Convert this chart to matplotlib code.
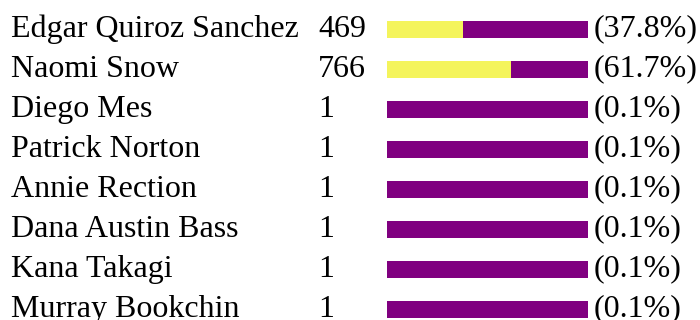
import matplotlib.pyplot as plt

names = ["Edgar Quiroz Sanchez", "Naomi Snow", "Diego Mes", "Patrick Norton",
         "Annie Rection", "Dana Austin Bass", "Kana Takagi", "Murray Bookchin"]
votes = [469, 766, 1, 1, 1, 1, 1, 1]
share = [37.8, 61.7, 0.0, 0.0, 0.0, 0.0, 0.0, 0.0]
labels = ["(37.8%)", "(61.7%)", "(0.1%)", "(0.1%)", "(0.1%)", "(0.1%)", "(0.1%)", "(0.1%)"]

W, H = 700, 320
row_h = 40.0
first = 29.5
ylo = -first / row_h
yhi = (H - first) / row_h

yellow = "#f4f45c"
purple = "#800080"

plt.rcParams['font.family'] = ['Liberation Serif', 'DejaVu Serif']

fig = plt.figure(figsize=(W / 100, H / 100), dpi=100)
fig.patch.set_facecolor("white")

# bars: yellow share + purple remainder
bx0, bx1 = 387, 588
bax = fig.add_axes([bx0 / W, 0, (bx1 - bx0) / W, 1])
bax.set_xlim(0, 100)
bax.set_ylim(yhi, ylo)
bax.axis("off")
rows = list(range(len(names)))
rest = [100 - s for s in share]
bax.barh(rows, share, height=17 / row_h, color=yellow, linewidth=0)
bax.barh(rows, rest, left=share, height=17 / row_h, color=purple, linewidth=0)

# text columns
tax = fig.add_axes([0, 0, 1, 1])
tax.set_xlim(0, W)
tax.set_ylim(yhi, ylo)
tax.axis("off")
tax.patch.set_alpha(0)
fs = 23
off = 0.18
for i in rows:
    tax.text(11, i + off, names[i], fontsize=fs, va="baseline", ha="left")
    tax.text(318, i + off, str(votes[i]), fontsize=fs, va="baseline", ha="left")
    tax.text(594, i + off, labels[i], fontsize=fs, va="baseline", ha="left")

fig.savefig("out.png", dpi=100)
